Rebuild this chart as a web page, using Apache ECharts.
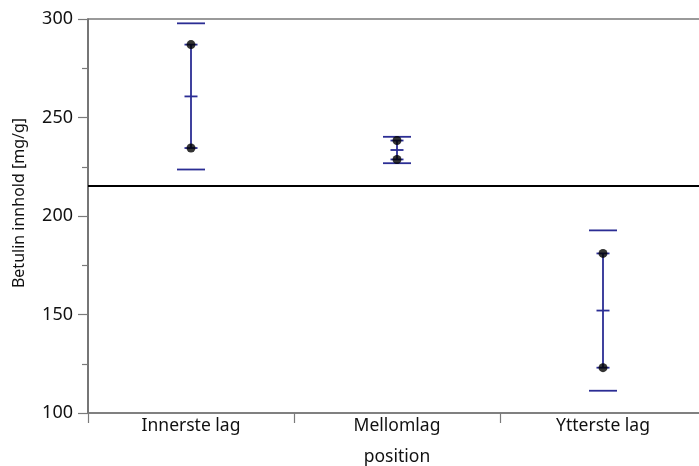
<!DOCTYPE html>
<html>
<head>
<meta charset="utf-8">
<script src="https://cdn.jsdelivr.net/npm/echarts@6/dist/echarts.min.js"></script>
<style>html,body{margin:0;padding:0;background:#fff;}#c{width:699px;height:466px;}</style>
</head>
<body>
<div id="c"></div>
<script>
const categories = ['Innerste lag', 'Mellomlag', 'Ytterste lag'];
const pointsHigh = [287, 238.3, 181];
const pointsLow = [234.5, 228.7, 123];
const means = [260.7, 233.5, 152];
const ciUpper = [297.8, 240.2, 192.7];
const ciLower = [223.6, 226.8, 111.3];
const grandMean = 215.2;
const yTicks = { min: 100, max: 300, interval: 50 };

const BLUE = '#2b2d94';
const FONT = 'Noto Sans';

const barData = categories.map((c, i) => [i, pointsLow[i], pointsHigh[i], means[i], ciLower[i], ciUpper[i]]);
const dotData = [];
categories.forEach((c, i) => { dotData.push([i, pointsHigh[i]]); dotData.push([i, pointsLow[i]]); });

const chart = echarts.init(document.getElementById('c'), null, { renderer: 'canvas' });
chart.setOption({
  animation: false,
  grid: { left: 88, top: 19, width: 618, height: 394, outerBoundsMode: 'none', containLabel: false, show: true, borderColor: '#7a7a7a', borderWidth: 1.5, backgroundColor: 'transparent' },
  xAxis: {
    type: 'category', data: categories, boundaryGap: true,
    name: 'position', nameLocation: 'middle', nameGap: 35,
    nameTextStyle: { fontFamily: FONT, fontSize: 17.5, color: '#111' },
    axisLine: { lineStyle: { color: '#7a7a7a', width: 1.5 } },
    axisTick: { show: true, length: 10, alignWithLabel: false, lineStyle: { color: '#7a7a7a', width: 1.2 } },
    axisLabel: { fontFamily: FONT, fontSize: 17.5, color: '#111', margin: 4 },
    splitLine: { show: false }
  },
  yAxis: {
    type: 'value', min: yTicks.min, max: yTicks.max, interval: yTicks.interval,
    name: 'Betulin innhold [mg/g]', nameLocation: 'middle', nameGap: 61, nameRotate: 90,
    nameTextStyle: { fontFamily: FONT, fontSize: 16, color: '#111', padding: [0, 0, 0, 26] },
    axisLine: { show: true, lineStyle: { color: '#6a6a6a', width: 1.5 } },
    axisTick: { show: true, length: 10, lineStyle: { color: '#7a7a7a', width: 1.2 } },
    minorTick: { show: true, splitNumber: 2, length: 6, lineStyle: { color: '#7a7a7a', width: 1.2 } },
    axisLabel: { fontFamily: FONT, fontSize: 18, color: '#111', margin: 15 },
    splitLine: { show: false }
  },
  series: [
    {
      type: 'custom',
      data: barData,
      z: 2,
      renderItem: function (params, api) {
        const x = api.value(0);
        const pLo = api.coord([x, api.value(1)]);
        const pHi = api.coord([x, api.value(2)]);
        const pM = api.coord([x, api.value(3)]);
        const pCl = api.coord([x, api.value(4)]);
        const pCu = api.coord([x, api.value(5)]);
        const cx = pM[0];
        const capW = 14, tickW = 6.5;
        const st = { stroke: BLUE, lineWidth: 1.8 };
        return {
          type: 'group',
          children: [
            { type: 'line', shape: { x1: cx, y1: pHi[1], x2: cx, y2: pLo[1] }, style: st },
            { type: 'line', shape: { x1: cx - capW, y1: pCu[1], x2: cx + capW, y2: pCu[1] }, style: st },
            { type: 'line', shape: { x1: cx - capW, y1: pCl[1], x2: cx + capW, y2: pCl[1] }, style: st },
            { type: 'line', shape: { x1: cx - tickW, y1: pM[1], x2: cx + tickW, y2: pM[1] }, style: st },
            { type: 'line', shape: { x1: cx - tickW, y1: pHi[1], x2: cx + tickW, y2: pHi[1] }, style: st },
            { type: 'line', shape: { x1: cx - tickW, y1: pLo[1], x2: cx + tickW, y2: pLo[1] }, style: st }
          ]
        };
      },
      markLine: {
        silent: true, symbol: 'none', label: { show: false },
        lineStyle: { color: '#000', width: 1.8, type: 'solid' },
        data: [{ yAxis: grandMean }]
      }
    },
    {
      type: 'scatter',
      data: dotData,
      symbol: 'circle', symbolSize: 9,
      itemStyle: { color: '#000' },
      z: 3
    }
  ]
});
</script>
</body>
</html>
